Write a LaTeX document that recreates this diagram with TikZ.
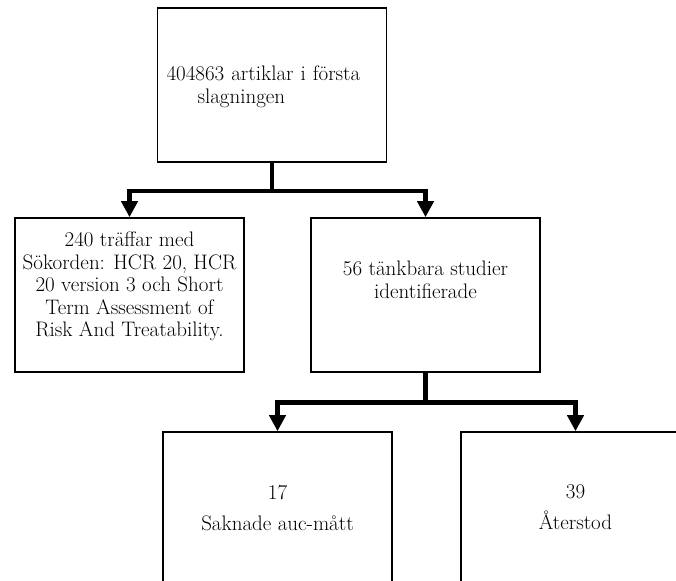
\documentclass[tikz,border=0pt]{standalone}
\usepackage{tikz}
\usetikzlibrary{arrows.meta}

\begin{document}
\begin{tikzpicture}[x=1pt,y=-1pt]
	\tikzset{box/.style={draw,line width=1.6pt,minimum width=229pt,minimum height=154pt,inner sep=0pt},
		txt/.style={align=center,inner sep=0pt,font=\fontsize{21}{22.5}\selectfont},
		flow/.style={line width=4.5pt,-{Triangle[length=16pt,width=16pt]}}}
	\useasboundingbox (0,0) rectangle (676,580);
	\clip (0,0) rectangle (676,580);

	%% boxes
	\node[box] (top) at (272,85) {};
	\node[box] (hits) at (129.5,295) {};
	\node[box] (cand) at (425.5,295) {};
	\node[box] (miss) at (277.5,509) {};
	\node[box] (kept) at (575.5,509) {};

	%% texts
	\node[txt,text width=211pt,align=left] (top-txt) at (272,86.9) {404863 artiklar i första\\\hspace*{31pt}slagningen};
	\node[txt] (hits-txt) at (129.5,286.4) {240 träffar med\\Sökorden: HCR 20, HCR\\20 version 3 och Short\\Term Assessment of\\Risk And Treatability.};
	\node[txt] (cand-txt) at (425.5,279.8) {56 tänkbara studier\\identifierade};
	\node[txt] (miss-txt) at (277.5,507.6) {17\\[8.5pt]Saknade auc-mått};
	\node[txt] (kept-txt) at (575.5,507.6) {39\\[8.5pt]Återstod};

	%% arrows
	\draw[flow] (top.south) -- ++(0,28) -| (hits.north);
	\draw[flow] (top.south) -- ++(0,28) -| (cand.north);
	\draw[flow] (cand.south) -- ++(0,29.5) -| (miss.north);
	\draw[flow] (cand.south) -- ++(0,29.5) -| (kept.north);
\end{tikzpicture}
\end{document}
